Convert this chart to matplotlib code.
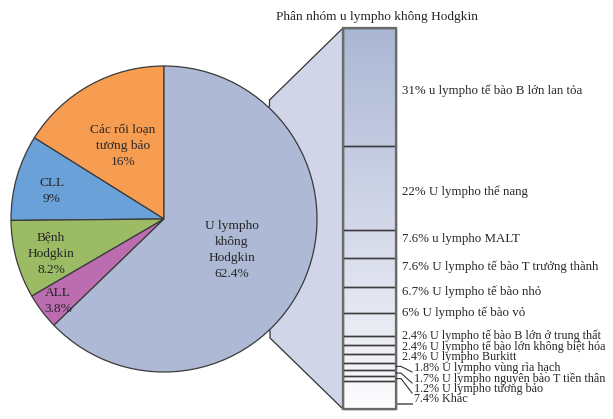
import numpy as np
import matplotlib
matplotlib.use("Agg")
import matplotlib.pyplot as plt
from matplotlib.colors import LinearSegmentedColormap
from matplotlib.patches import Polygon, Rectangle

# ---------------- data ----------------
pie_labels = ["Các rối loạn\ntương bảo\n16%", "CLL\n9%", "Bệnh\nHodgkin\n8.2%",
              "ALL\n3.8%", "U lympho\nkhông\nHodgkin\n62.4%"]
pie_values = [16, 9, 8.2, 3.8, 62.4]

sub_labels = ["31% u lympho tế bào B lớn lan tỏa", "22% U lympho thể nang",
              "7.6% u lympho MALT", "7.6% U lympho tế bào T trưởng thành",
              "6.7% U lympho tế bào nhỏ", "6% U lympho tế bào vỏ",
              "2.4% U lympho tế bào B lớn ở trung thất",
              "2.4% U lympho tế bào lớn không biệt hóa",
              "2.4% U lympho Burkitt", "1.8% U lympho vùng rìa hạch",
              "1.7% U lympho nguyên bào T tiền thân", "1.2% U lympho tương bảo",
              "7.4% Khác"]
sub_values = [31, 22, 7.6, 7.6, 6.7, 6, 2.4, 2.4, 2.4, 1.8, 1.7, 1.2, 7.4]
title = "Phân nhóm u lympho không Hodgkin"

# ---------------- layout ----------------
W, H = 613, 419
def Y(y):  # image row -> data y (y up)
    return H - y

pie_colors = ["#f79d52", "#6aa1d8", "#9bbb64", "#bb6db0", "#adb9d5"]
pie_cx, pie_cy, pie_r = 164, Y(219), 153
pie_label_pos = [(123, 146), (52, 191), (51, 254), (58, 301), (232, 250)]

bar_l, bar_r, bar_top, bar_bot = 343, 396, 28, 409
label_y = [91, 192, 239, 267, 292, 313, 336, 347, 357, 368, 379, 389, 399]

serif = ["Liberation Serif", "DejaVu Serif"]
fs = 9.6
top_fs = 9.3
small_fs = 8.7
txt_col = "#262626"

fig = plt.figure(figsize=(W / 100, H / 100), dpi=100)
ax = fig.add_axes([0, 0, 1, 1])

# connector polygon (behind pie)
conn = Polygon([(bar_l, Y(bar_top)), (269.5, Y(100)), (269.5, Y(106)),
                (pie_cx, pie_cy), (270, Y(331)), (270, Y(338)),
                (bar_l, Y(bar_bot))],
               closed=True, facecolor="#d0d5e8", edgecolor="#333333",
               linewidth=0.9, zorder=1)
ax.add_patch(conn)

wedges, _ = ax.pie(pie_values, colors=pie_colors, startangle=90, counterclock=True,
                   center=(pie_cx, pie_cy), radius=pie_r,
                   wedgeprops=dict(edgecolor="#3a3a3a", linewidth=0.9))
for w in wedges:
    w.set_zorder(2)

for lab, (x, y) in zip(pie_labels, pie_label_pos):
    ax.text(x, Y(y), lab, ha="center", va="center", fontsize=fs, family=serif,
            color=txt_col, linespacing=1.45, zorder=5)

# bar with gradient
total = sum(sub_values)
scale = (bar_bot - bar_top) / total
cmap = LinearSegmentedColormap.from_list(
    "g", [(0, "#aab7d4"), (0.35, "#c6cde2"), (0.6, "#dadeec"), (0.85, "#eef0f5"), (1, "#fdfdfe")])
grad = np.linspace(0, 1, 256).reshape(-1, 1)
ax.imshow(grad, cmap=cmap, aspect="auto",
          extent=(bar_l, bar_r, Y(bar_bot), Y(bar_top)), origin="upper", zorder=2)

bottoms = []
cum = 0
for v in sub_values:
    cum += v
    bottoms.append(Y(bar_top) - cum * scale)
heights = [v * scale for v in sub_values]
ax.bar([(bar_l + bar_r) / 2] * len(sub_values), heights, bottom=bottoms,
       width=bar_r - bar_l, facecolor="none", edgecolor="#3c3c3c", linewidth=1.0,
       zorder=3)
ax.add_patch(Rectangle((bar_l, Y(bar_bot)), bar_r - bar_l, bar_bot - bar_top,
                       facecolor="none", edgecolor="#6a6a6a", linewidth=1.6, zorder=4))

# labels
for i, (lab, ly) in enumerate(zip(sub_labels, label_y)):
    seg_mid = bottoms[i] + heights[i] / 2
    size = top_fs if i < 6 else small_fs
    if i < 9:
        ax.text(401.5, Y(ly), lab, ha="left", va="center", fontsize=size,
                family=serif, color=txt_col, zorder=5)
    else:
        ax.text(413.5, Y(ly), lab, ha="left", va="center", fontsize=size,
                family=serif, color=txt_col, zorder=5)
        if i < len(sub_labels) - 1:
            ax.plot([bar_r, 401, 412], [seg_mid, seg_mid, Y(ly + 4)],
                    color="#333333", linewidth=0.8, zorder=4)
        else:
            ax.plot([bar_r, 412], [Y(ly + 5), Y(ly + 5)], color="#777777",
                    linewidth=1.4, zorder=4)

ax.text(377, Y(17), title, ha="center", va="center", fontsize=9.6,
        family=serif, color=txt_col)

ax.set_xlim(0, W)
ax.set_ylim(0, H)
ax.set_aspect("equal")
ax.axis("off")
fig.savefig("out.png", dpi=100, facecolor="white")
